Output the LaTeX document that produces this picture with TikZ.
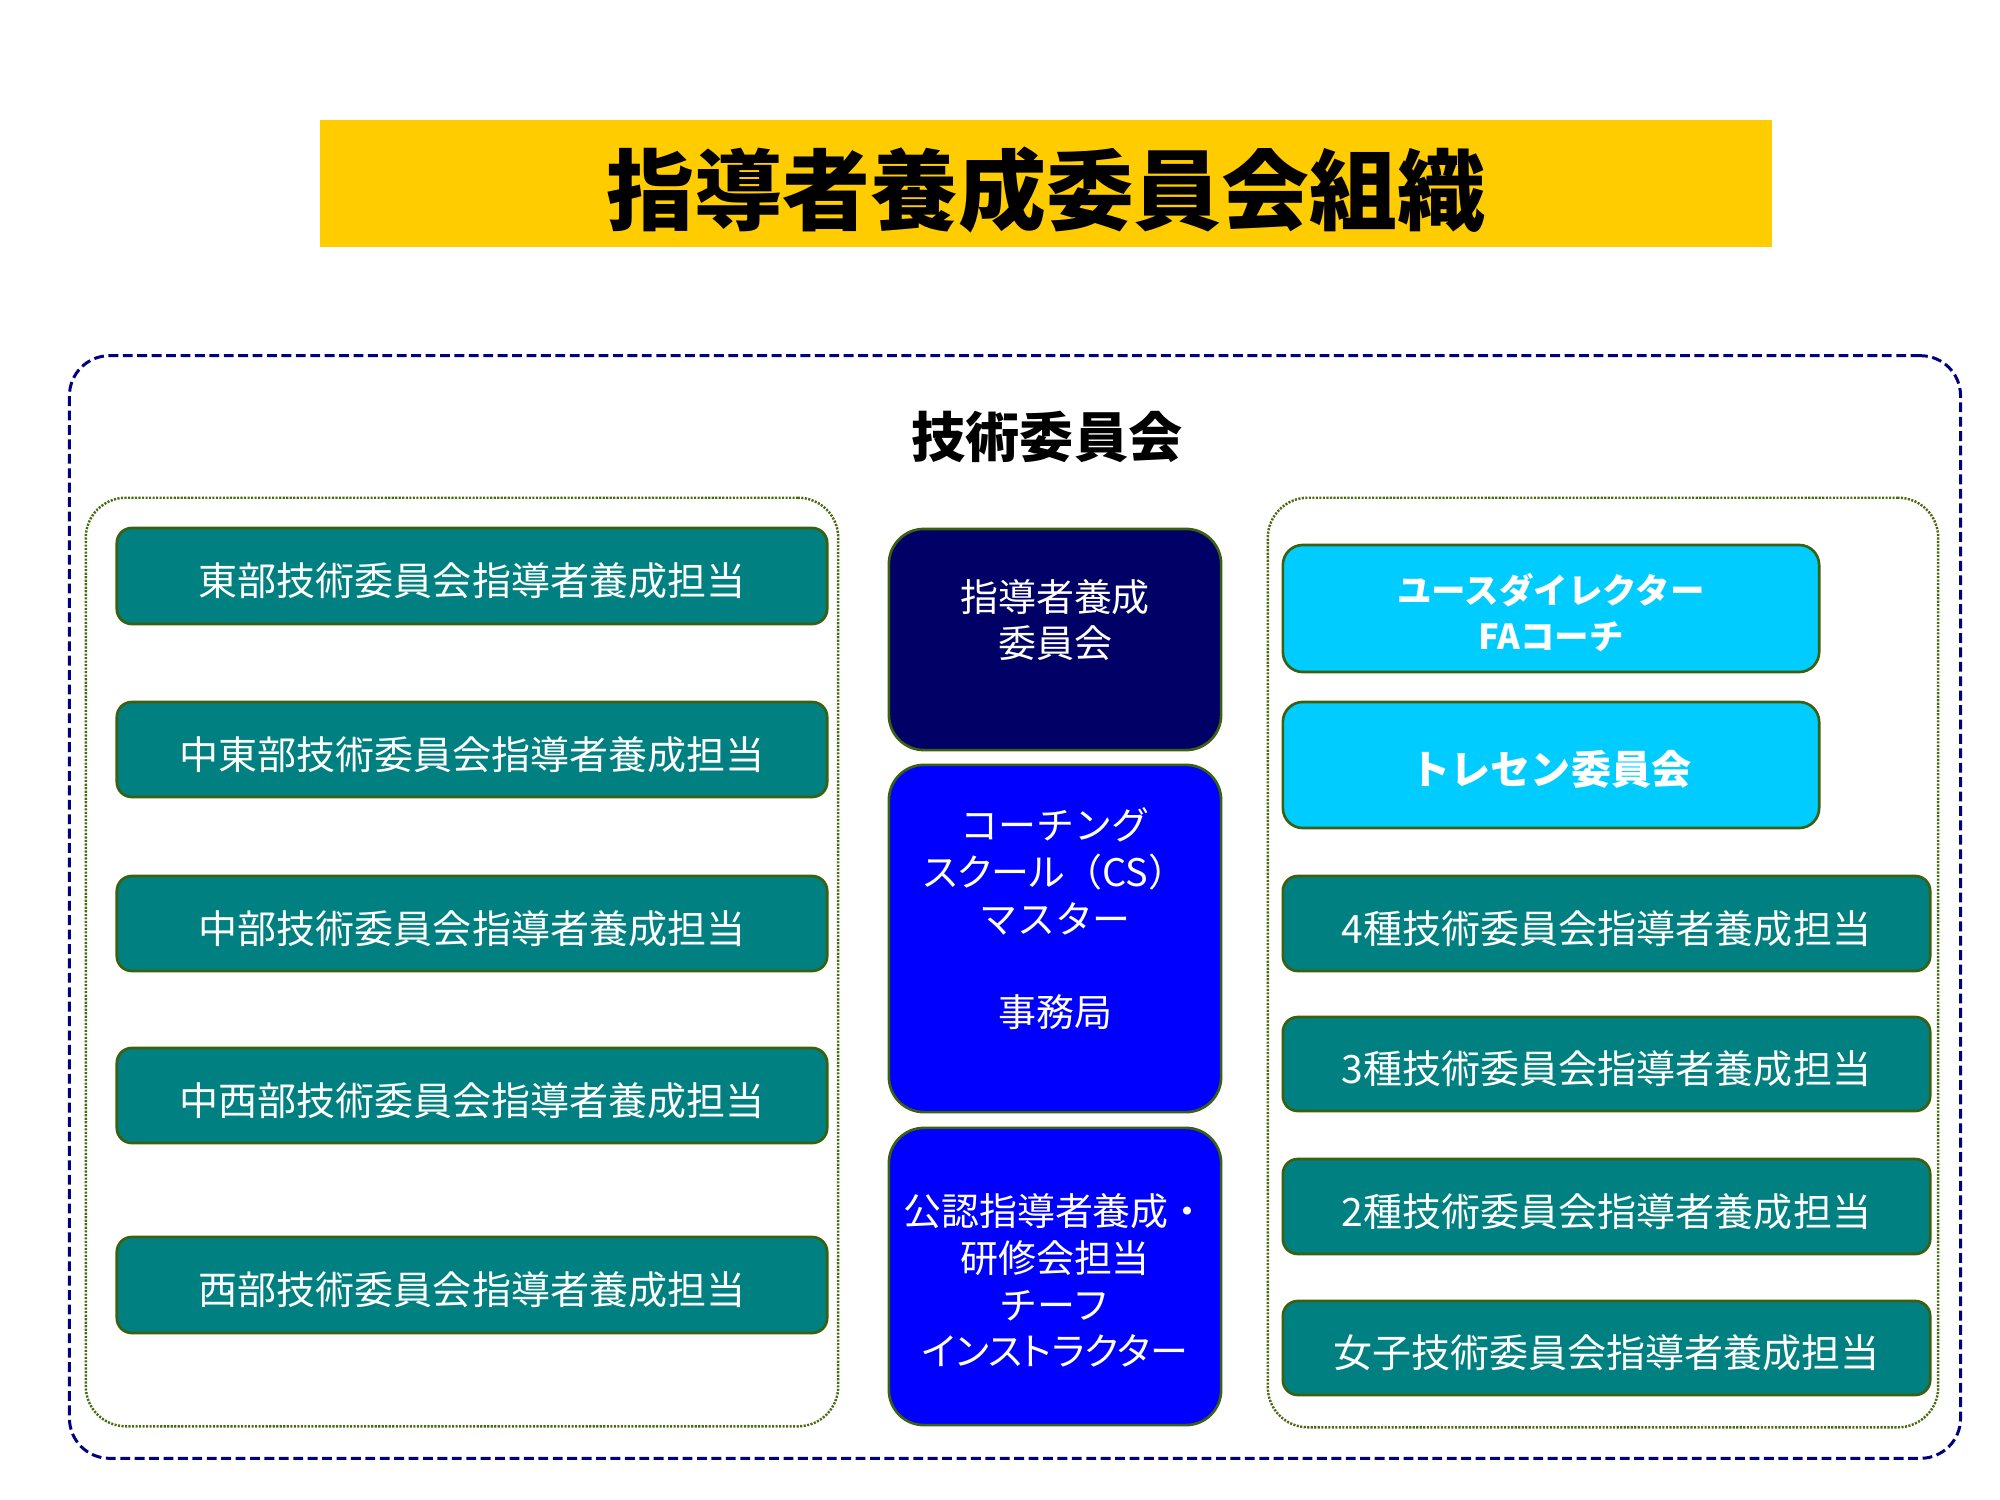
\documentclass[tikz,border=0pt]{standalone}
\usepackage{fontspec}
\setmainfont{Noto Sans CJK JP}
\newfontfamily\paltfont[RawFeature=+palt]{Noto Sans CJK JP}
\definecolor{titlegold}{HTML}{FFCC00}
\definecolor{navyline}{HTML}{000080}
\definecolor{olivedot}{HTML}{4A6A12}
\definecolor{boxedge}{HTML}{3A6010}
\definecolor{tealc}{HTML}{008080}
\definecolor{navyc}{HTML}{000066}
\definecolor{bluec}{HTML}{0000FF}
\definecolor{cyanc}{HTML}{00CCFF}
\tikzset{
  titlebar/.style={fill=titlegold, inner sep=0pt},
  titletext/.style={text=black, inner sep=0pt, yshift=-0.07cm, font=\bfseries\fontsize{25}{30}\selectfont},
  outerbox/.style={draw=navyline, line width=0.85pt, dash pattern=on 2.8pt off 1.3pt, rounded corners=0.4cm, inner sep=0pt},
  groupbox/.style={draw=olivedot, line width=0.7pt, dash pattern=on 0.6pt off 0.4pt, rounded corners=0.4cm, inner sep=0pt},
  tealbox/.style={draw=boxedge, line width=0.75pt, fill=tealc, rounded corners=0.15cm, inner sep=0pt},
  tealtext/.style={text=white, inner sep=0pt, yshift=-0.05cm, font=\fontsize{11.1}{13}\selectfont},
  cyanbox/.style={draw=boxedge, line width=0.75pt, fill=cyanc, rounded corners=0.2cm, inner sep=0pt},
  cyantext/.style={text=white, inner sep=0pt, align=center, yshift=-0.04cm},
  midbox/.style={draw=boxedge, line width=0.75pt, rounded corners=0.35cm, inner sep=0pt, minimum width=3.32cm},
  midtext/.style={text=white, align=center, inner sep=0pt, font=\fontsize{10.8}{13.3}\selectfont},
}
\begin{document}
\begin{tikzpicture}[x=0.01cm,y=-0.01cm]
\useasboundingbox (0,0) rectangle (2000,1500);
% title
\node[titlebar, minimum width=14.52cm, minimum height=1.27cm] (title) at (1046,183.5) {};
\node[titletext] (titlet) at (title.center) {指導者養成委員会組織};
% outer dashed frame
\node[outerbox, minimum width=18.9cm, minimum height=11.02cm] (outer) at (1015,907) {};
\node[font=\bfseries\fontsize{15.4}{18}\selectfont, inner sep=0pt] (gijutsu) at (1047,437) {技術委員会};
% group frames
\node[groupbox, minimum width=7.52cm, minimum height=9.28cm] (leftgroup) at (462,962) {};
\node[groupbox, minimum width=6.70cm, minimum height=9.29cm] (rightgroup) at (1603,962.5) {};
% left column
\node[tealbox, minimum width=7.10cm, minimum height=0.96cm] (east) at (472,576) {};
\node[tealtext] (eastt) at (east.center) {東部技術委員会指導者養成担当};
\node[tealbox, minimum width=7.10cm, minimum height=0.95cm] (mideast) at (472,749.5) {};
\node[tealtext] (mideastt) at (mideast.center) {中東部技術委員会指導者養成担当};
\node[tealbox, minimum width=7.10cm, minimum height=0.95cm] (central) at (472,923.5) {};
\node[tealtext] (centralt) at (central.center) {中部技術委員会指導者養成担当};
\node[tealbox, minimum width=7.10cm, minimum height=0.95cm] (midwest) at (472,1095.5) {};
\node[tealtext] (midwestt) at (midwest.center) {中西部技術委員会指導者養成担当};
\node[tealbox, minimum width=7.10cm, minimum height=0.96cm] (west) at (472,1285) {};
\node[tealtext] (westt) at (west.center) {西部技術委員会指導者養成担当};
% centre column
\node[midbox, fill=navyc, minimum height=2.21cm] (committee) at (1055,639.5) {};
\node[midtext] (committeetext) at (1055,620) {指導者養成\\委員会};
\node[midbox, fill=bluec, minimum height=3.47cm] (csmaster) at (1055,938.5) {};
\node[midtext] (csmastertext) at (1055,919) {コーチング\\{\paltfont スクール}（CS）\\マスター\\[13.3pt]事務局};
\node[midbox, fill=bluec, minimum height=2.97cm] (chief) at (1055,1276.5) {};
\node[midtext] (chieftext) at (1055,1280.5) {公認指導者養成・\\研修会担当\\チーフ\\{\paltfont インストラクター}};
% right column
\node[cyanbox, minimum width=5.36cm, minimum height=1.27cm] (youth) at (1551,608.5) {};
\node[cyantext, font=\bfseries\fontsize{9.8}{13.1}\selectfont] (youtht) at (youth.center) {ユースダイレクター\\FAコーチ};
\node[cyanbox, minimum width=5.36cm, minimum height=1.26cm] (tresen) at (1551,765) {};
\node[cyantext, font=\bfseries\fontsize{11.4}{13}\selectfont] (tresent) at (tresen.center) {トレセン委員会};
\node[tealbox, minimum width=6.47cm, minimum height=0.95cm] (cat4) at (1606.5,923.5) {};
\node[tealtext] (cat4t) at (cat4.center) {4種技術委員会指導者養成担当};
\node[tealbox, minimum width=6.47cm, minimum height=0.94cm] (cat3) at (1606.5,1064) {};
\node[tealtext] (cat3t) at (cat3.center) {3種技術委員会指導者養成担当};
\node[tealbox, minimum width=6.47cm, minimum height=0.95cm] (cat2) at (1606.5,1206.5) {};
\node[tealtext] (cat2t) at (cat2.center) {2種技術委員会指導者養成担当};
\node[tealbox, minimum width=6.47cm, minimum height=0.94cm] (women) at (1606.5,1348) {};
\node[tealtext] (woment) at (women.center) {女子技術委員会指導者養成担当};
\end{tikzpicture}
\end{document}
